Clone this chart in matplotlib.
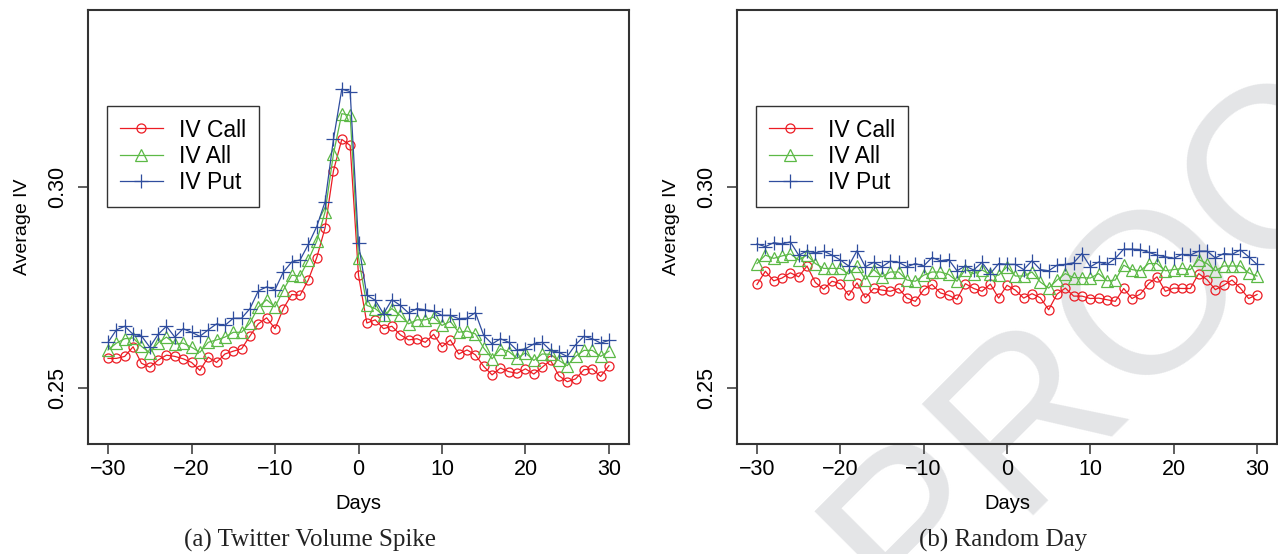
import numpy as np
import matplotlib
matplotlib.use("Agg")
import matplotlib.pyplot as plt

plt.rcParams['font.family'] = ['Liberation Sans', 'DejaVu Sans']

days = list(range(-30, 31))

# (a) Twitter volume spike
spike_call = [0.2573, 0.2573, 0.2578, 0.2602, 0.2561, 0.2551, 0.2569, 0.2581, 0.2578, 0.2572,
              0.2563, 0.2543, 0.2576, 0.2563, 0.2584, 0.2591, 0.2597, 0.2629, 0.2659, 0.2674,
              0.2647, 0.2697, 0.2732, 0.2730, 0.2769, 0.2824, 0.2898, 0.3040, 0.3118, 0.3103,
              0.2780, 0.2661, 0.2669, 0.2647, 0.2653, 0.2632, 0.2619, 0.2622, 0.2613, 0.2633,
              0.2602, 0.2619, 0.2584, 0.2594, 0.2582, 0.2553, 0.2532, 0.2549, 0.2540, 0.2536,
              0.2547, 0.2534, 0.2551, 0.2568, 0.2530, 0.2515, 0.2522, 0.2545, 0.2547, 0.2528,
              0.2555]
spike_all = [0.2594, 0.2611, 0.2622, 0.2624, 0.2603, 0.2587, 0.2612, 0.2626, 0.2609, 0.2611,
             0.2601, 0.2588, 0.2613, 0.2619, 0.2626, 0.2638, 0.2638, 0.2661, 0.2701, 0.2719,
             0.2701, 0.2743, 0.2780, 0.2778, 0.2818, 0.2865, 0.2938, 0.3082, 0.3182, 0.3178,
             0.2824, 0.2705, 0.2697, 0.2680, 0.2697, 0.2680, 0.2659, 0.2669, 0.2669, 0.2676,
             0.2655, 0.2665, 0.2638, 0.2641, 0.2634, 0.2599, 0.2572, 0.2597, 0.2590, 0.2573,
             0.2587, 0.2568, 0.2584, 0.2583, 0.2568, 0.2555, 0.2578, 0.2593, 0.2593, 0.2578,
             0.2591]
spike_put = [0.2613, 0.2644, 0.2653, 0.2633, 0.2629, 0.2601, 0.2633, 0.2653, 0.2626, 0.2647,
             0.2638, 0.2628, 0.2644, 0.2659, 0.2655, 0.2673, 0.2673, 0.2697, 0.2741, 0.2751,
             0.2744, 0.2788, 0.2813, 0.2818, 0.2857, 0.2901, 0.2963, 0.3118, 0.3243, 0.3237,
             0.2859, 0.2730, 0.2718, 0.2684, 0.2719, 0.2705, 0.2686, 0.2697, 0.2694, 0.2691,
             0.2680, 0.2680, 0.2672, 0.2673, 0.2687, 0.2630, 0.2609, 0.2622, 0.2613, 0.2593,
             0.2597, 0.2609, 0.2613, 0.2593, 0.2588, 0.2578, 0.2607, 0.2628, 0.2622, 0.2611,
             0.2618]

# (b) random day
rand_call = [0.2757, 0.2790, 0.2766, 0.2773, 0.2786, 0.2776, 0.2803, 0.2762, 0.2745, 0.2765,
             0.2759, 0.2730, 0.2761, 0.2724, 0.2747, 0.2743, 0.2740, 0.2747, 0.2723, 0.2715,
             0.2744, 0.2757, 0.2736, 0.2730, 0.2720, 0.2759, 0.2747, 0.2740, 0.2758, 0.2723,
             0.2755, 0.2743, 0.2723, 0.2734, 0.2724, 0.2694, 0.2733, 0.2748, 0.2728, 0.2728,
             0.2722, 0.2723, 0.2719, 0.2715, 0.2747, 0.2722, 0.2733, 0.2759, 0.2776, 0.2740,
             0.2748, 0.2747, 0.2747, 0.2784, 0.2769, 0.2744, 0.2755, 0.2768, 0.2748, 0.2722,
             0.2732]
rand_all = [0.2809, 0.2830, 0.2822, 0.2828, 0.2833, 0.2818, 0.2830, 0.2809, 0.2797, 0.2797,
            0.2797, 0.2783, 0.2803, 0.2769, 0.2794, 0.2776, 0.2788, 0.2788, 0.2768, 0.2765,
            0.2780, 0.2788, 0.2788, 0.2782, 0.2765, 0.2794, 0.2784, 0.2793, 0.2782, 0.2780,
            0.2801, 0.2778, 0.2778, 0.2788, 0.2763, 0.2748, 0.2768, 0.2784, 0.2774, 0.2774,
            0.2773, 0.2784, 0.2766, 0.2768, 0.2805, 0.2794, 0.2791, 0.2809, 0.2809, 0.2791,
            0.2794, 0.2797, 0.2794, 0.2819, 0.2809, 0.2791, 0.2803, 0.2803, 0.2803, 0.2786,
            0.2778]
rand_put = [0.2858, 0.2851, 0.2861, 0.2858, 0.2863, 0.2830, 0.2840, 0.2836, 0.2840, 0.2830,
            0.2818, 0.2803, 0.2841, 0.2801, 0.2812, 0.2801, 0.2815, 0.2812, 0.2801, 0.2809,
            0.2803, 0.2824, 0.2816, 0.2819, 0.2791, 0.2803, 0.2793, 0.2812, 0.2784, 0.2809,
            0.2807, 0.2807, 0.2794, 0.2816, 0.2794, 0.2791, 0.2805, 0.2807, 0.2811, 0.2834,
            0.2801, 0.2813, 0.2807, 0.2822, 0.2845, 0.2845, 0.2844, 0.2837, 0.2830, 0.2826,
            0.2822, 0.2832, 0.2830, 0.2840, 0.2840, 0.2823, 0.2834, 0.2832, 0.2843, 0.2826,
            0.2807]

captions = ["(a) Twitter Volume Spike", "(b) Random Day"]
labels = ["IV Call", "IV All", "IV Put"]
colors = ["#ec1c24", "#5cb946", "#2f4d9e"]

fig = plt.figure(figsize=(12.78, 5.54), dpi=100)
ax1 = fig.add_axes([88 / 1278, 1 - 444 / 554, 541 / 1278, 434 / 554])
ax2 = fig.add_axes([737 / 1278, 1 - 444 / 554, 540 / 1278, 434 / 554])

panels = [(ax1, spike_call, spike_all, spike_put), (ax2, rand_call, rand_all, rand_put)]

for ax, call, allv, put in panels:
    ax.set_facecolor('none')
    ax.plot(days, call, color=colors[0], lw=0.9, marker='o', ms=6.5, mfc='none', mew=0.9, label=labels[0])
    ax.plot(days, allv, color=colors[1], lw=0.9, marker='^', ms=8, mfc='none', mew=0.9, label=labels[1])
    ax.plot(days, put, color=colors[2], lw=0.9, marker='+', ms=10, mew=0.9, label=labels[2])
    ax.set_xlim(-32.4, 32.4)
    ax.set_ylim(0.236, 0.344)
    ax.set_xticks([-30, -20, -10, 0, 10, 20, 30])
    ax.set_yticks([0.25, 0.30])
    ax.set_yticklabels(["0.25", "0.30"], rotation=90, va='center')
    ax.tick_params(axis='both', direction='out', length=7, width=1.1, color='#333333', labelsize=15.5)
    ax.tick_params(axis='x', pad=4)
    ax.tick_params(axis='y', pad=7)
    for s in ax.spines.values():
        s.set_color('#333333')
        s.set_linewidth(1.5)
    ax.set_xlabel("Days", fontsize=14.5, labelpad=10)
    ax.set_ylabel("Average IV", fontsize=14, labelpad=12)
    leg = ax.legend(loc='upper left', bbox_to_anchor=(0.035, 0.779), fontsize=16.5,
                    frameon=True, fancybox=False, borderpad=0.55, labelspacing=0.15,
                    handlelength=1.9, handletextpad=0.7, borderaxespad=0)
    leg.get_frame().set_edgecolor('black')
    leg.get_frame().set_linewidth(1.0)

fig.text(310 / 1278, 1 - 540 / 554, captions[0], ha='center', va='center',
         family=['Liberation Serif', 'DejaVu Serif'], fontsize=18, color='#222222')
fig.text(1003 / 1278, 1 - 540 / 554, captions[1], ha='center', va='center',
         family=['Liberation Serif', 'DejaVu Serif'], fontsize=18, color='#222222')

# watermark, drawn underneath everything
fig.text(1195 / 1278, 1 - 335 / 554, "PROOF", ha='center', va='baseline', rotation=45,
         rotation_mode='anchor', fontsize=165, color='#e4e5e7', zorder=-5,
         family=['Liberation Sans', 'DejaVu Sans'])

fig.savefig("out.png", dpi=100)
